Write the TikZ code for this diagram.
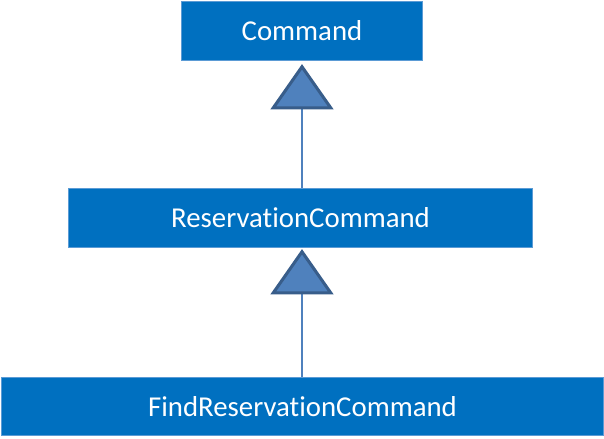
\documentclass[tikz,border=0pt]{standalone}
\usepackage{fontspec}
\setmainfont{Carlito}[Ligatures=NoCommon]
\usepackage{xcolor}
\usepackage{tikz}
\usetikzlibrary{arrows.meta}

\definecolor{boxblue}{HTML}{0070C0}
\definecolor{boxedge}{HTML}{5B9BD5}
\definecolor{trifill}{HTML}{4F81BD}
\definecolor{triedge}{HTML}{385D8A}

\begin{document}
\begin{tikzpicture}[x=0.75pt, y=-0.75pt]
    % Define styles
    \tikzstyle{cls} = [rectangle, minimum height=44pt, text centered, draw=boxedge, line width=0.6pt, fill=boxblue, text=white, font=\fontsize{21.6}{26}\selectfont, inner sep=0pt]
    \tikzstyle{inherit} = [draw=trifill, line width=1.1pt, -{Triangle[width=47pt, length=34pt, fill=trifill, color=triedge, line width=2.3pt]}]

    \useasboundingbox (0,0) rectangle (604,439);

    % Nodes
    \node (command) [cls, minimum width=181pt] at (302,31) {Command};
    \node (reservation) [cls, minimum width=348pt] at (300.5,218) {ReservationCommand};
    \node (findreservation) [cls, minimum width=451pt] at (302.5,406.5) {FindReservationCommand};

    % Arrows
    \draw [inherit, shorten >=2.5pt] (reservation.north -| 302,0) -- (command.south -| 302,0);
    \draw [inherit, shorten >=1pt] (findreservation.north -| 302,0) -- (reservation.south -| 302,0);
\end{tikzpicture}
\end{document}
